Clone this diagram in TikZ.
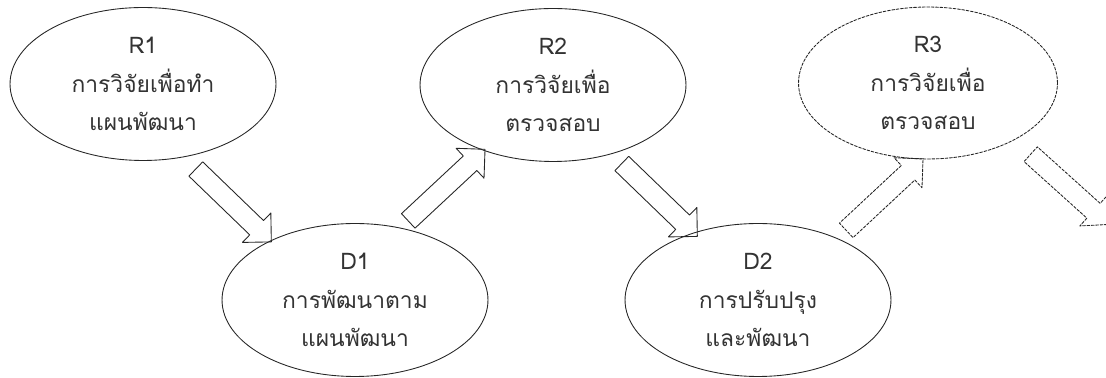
\documentclass[tikz,border=0pt]{standalone}
\usepackage{fontspec}
\newfontfamily\thaifont[Script=Thai]{Loma}
\usetikzlibrary{shapes.geometric}
\usetikzlibrary{shapes.arrows}
\begin{document}
\begin{tikzpicture}[line cap=round,line join=round,x=0.02cm,y=0.02cm,
  stage/.style={ellipse,draw=black!85,line width=0.5pt,minimum width=5.32cm,minimum height=3.06cm,
    align=center,text=black!80,font=\thaifont\fontsize{13}{22}\selectfont},
  plan/.style={stage,dash pattern=on 1.6pt off 0.9pt,minimum width=5.18cm,minimum height=3.04cm},
  blockarr/.style={single arrow,draw=black!85,line width=0.5pt,minimum height=2.1cm,inner sep=0pt,
    inner ysep=0.19cm,single arrow head extend=0.21cm,single arrow tip angle=90,single arrow head indent=0pt},
  dasharr/.style={blockarr,dash pattern=on 1.6pt off 0.9pt}]
      \useasboundingbox (0,0) rectangle (1106,378);
      \node[stage] (R1) at (143,294) {R1\\การวิจัยเพื่อทำ\\แผนพัฒนา};
      \node[stage] (D1) at (355,78) {D1\\การพัฒนาตาม\\แผนพัฒนา};
      \node[stage] (R2) at (553,293) {R2\\การวิจัยเพื่อ\\ตรวจสอบ};
      \node[stage] (D2) at (758,78) {D2\\การปรับปรุง\\และพัฒนา};
      \node[plan] (R3) at (928,295) {R3\\การวิจัยเพื่อ\\ตรวจสอบ};
      \node[blockarr,rotate=-44] (a1) at (230,176) {};
      \node[blockarr,rotate=43] (a2) at (443,189.5) {};
      \node[blockarr,rotate=-44] (a3) at (656,181.5) {};
      \node[dasharr,rotate=43] (a4) at (881,180) {};
      \node[dasharr,rotate=-42] (a5) at (1066,192) {};
\end{tikzpicture}
\end{document}
